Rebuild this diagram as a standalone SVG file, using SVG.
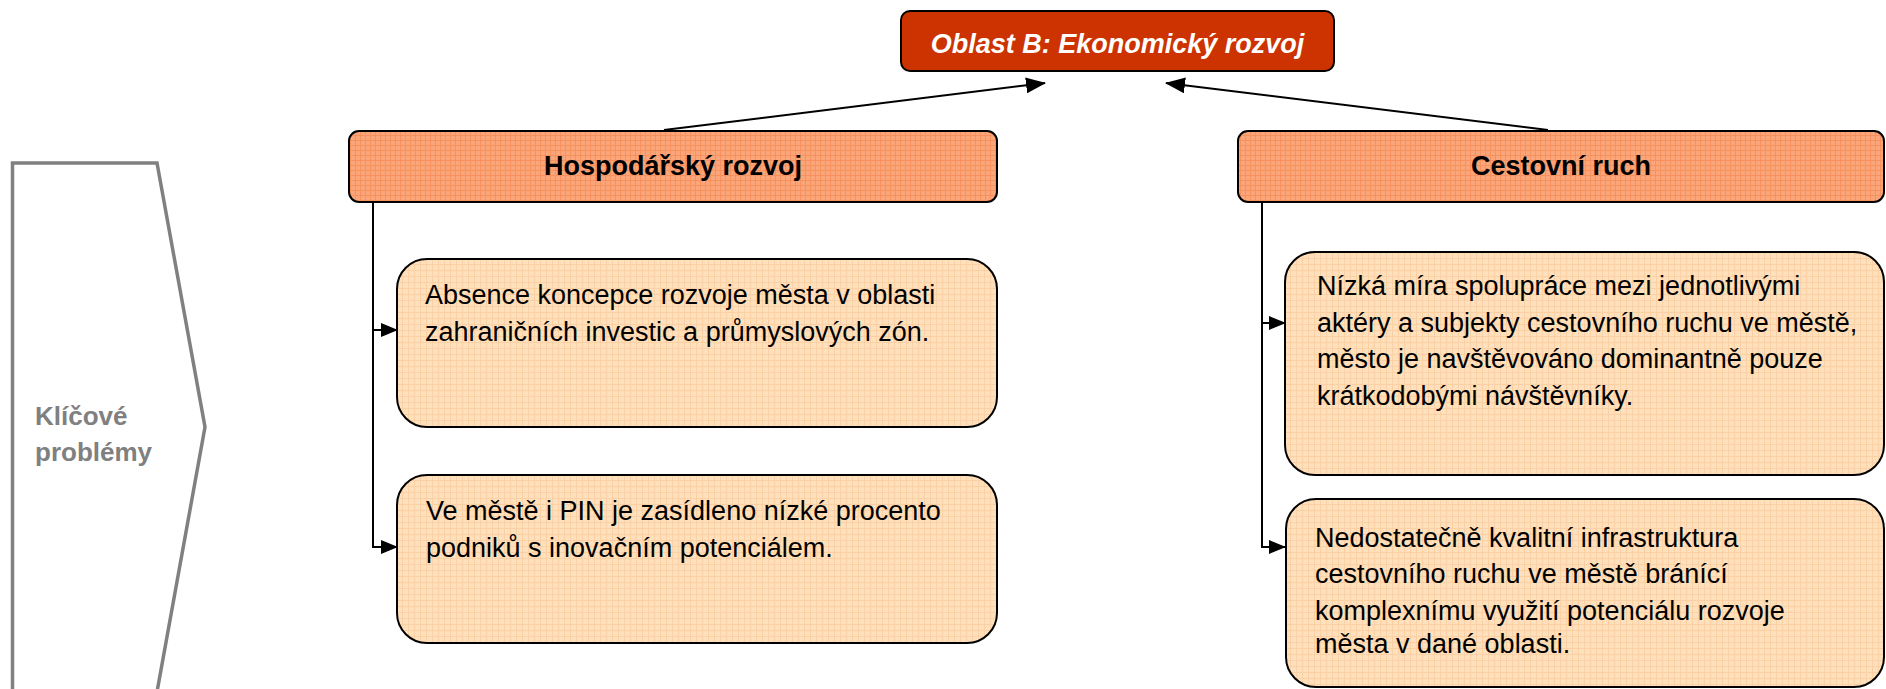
<svg xmlns="http://www.w3.org/2000/svg" width="1886" height="689" viewBox="0 0 1886 689">
<style>
  .hdr { fill: url(#gridHdr); stroke: #000; stroke-width: 2; }
  .body { fill: url(#gridBody); stroke: #000; stroke-width: 2; }
  .hdrtxt { font-family: "Liberation Sans", Arial, sans-serif; font-weight: bold; font-size: 27px; fill: #000; text-anchor: middle; }
  .btxt { font-family: "Liberation Sans", Arial, sans-serif; font-size: 27px; fill: #000; }
  .conn { stroke: #000; stroke-width: 2; fill: none; }
</style>
<defs>
  <pattern id="gridHdr" width="5" height="5" patternUnits="userSpaceOnUse">
    <rect width="5" height="5" fill="#FBA57A"/>
    <path d="M0 0.5H5M0.5 0V5" stroke="#F7925E" stroke-width="1"/>
  </pattern>
  <pattern id="gridBody" width="6" height="6" patternUnits="userSpaceOnUse">
    <rect width="6" height="6" fill="#FEE0BD"/>
    <path d="M0 0.5H6M0.5 0V6" stroke="#FBD0A4" stroke-width="1"/>
  </pattern>
  <marker id="arrBig" markerUnits="userSpaceOnUse" markerWidth="20" markerHeight="16" refX="19" refY="8" orient="auto">
    <path d="M0 0L20 8L0 16Z" fill="#000"/>
  </marker>
  <marker id="arrSm" markerUnits="userSpaceOnUse" markerWidth="17" markerHeight="14" refX="16" refY="7" orient="auto">
    <path d="M0 0L17 7L0 14Z" fill="#000"/>
  </marker>
</defs>
<rect width="1886" height="689" fill="#fff"/>

<g id="klicove-problemy">
  <polygon points="12.5,163 157,163 205,427 157,692 12.5,692" fill="#fff" stroke="#808080" stroke-width="3.5"/>
  <text x="35" y="425" font-family="Liberation Sans, Arial, sans-serif" font-weight="bold" font-size="26" fill="#808080">Klíčové</text>
  <text x="35" y="461" font-family="Liberation Sans, Arial, sans-serif" font-weight="bold" font-size="26" fill="#808080">problémy</text>
</g>

<g id="connectors">
  <line class="conn" x1="664" y1="130" x2="1045" y2="83" marker-end="url(#arrBig)"/>
  <line class="conn" x1="1548" y1="130" x2="1166" y2="83" marker-end="url(#arrBig)"/>
  <path class="conn" d="M373 202V547"/>
  <path class="conn" d="M372 330H397" marker-end="url(#arrSm)"/>
  <path class="conn" d="M372 547H397" marker-end="url(#arrSm)"/>
  <path class="conn" d="M1262 202V547"/>
  <path class="conn" d="M1261 323H1285" marker-end="url(#arrSm)"/>
  <path class="conn" d="M1261 547H1285" marker-end="url(#arrSm)"/>
</g>

<g id="oblast-b">
  <rect x="901" y="11" width="433" height="60" rx="9" fill="#CC3300" stroke="#000" stroke-width="2"/>
  <text x="1117.5" y="53" font-family="Liberation Sans, Arial, sans-serif" font-weight="bold" font-style="italic" font-size="27" fill="#fff" text-anchor="middle">Oblast B: Ekonomický rozvoj</text>
</g>

<g id="hospodarsky-rozvoj">
  <rect class="hdr" x="349" y="131" width="648" height="71" rx="10"/>
  <text class="hdrtxt" x="673" y="175">Hospodářský rozvoj</text>
</g>

<g id="cestovni-ruch">
  <rect class="hdr" x="1238" y="131" width="646" height="71" rx="10"/>
  <text class="hdrtxt" x="1561" y="175">Cestovní ruch</text>
</g>

<g id="absence-koncepce">
  <rect class="body" x="397" y="259" width="600" height="168" rx="30"/>
  <text class="btxt" x="425" y="304">Absence koncepce rozvoje města v oblasti</text>
  <text class="btxt" x="425" y="341">zahraničních investic a průmyslových zón.</text>
</g>

<g id="ve-meste-pin">
  <rect class="body" x="397" y="475" width="600" height="168" rx="30"/>
  <text class="btxt" x="426" y="520">Ve městě i PIN je zasídleno nízké procento</text>
  <text class="btxt" x="426" y="557">podniků s inovačním potenciálem.</text>
</g>

<g id="nizka-mira-spoluprace">
  <rect class="body" x="1285" y="252" width="599" height="223" rx="30"/>
  <text class="btxt" x="1317" y="295">Nízká míra spolupráce mezi jednotlivými</text>
  <text class="btxt" x="1317" y="332">aktéry a subjekty cestovního ruchu ve městě,</text>
  <text class="btxt" x="1317" y="368">město je navštěvováno dominantně pouze</text>
  <text class="btxt" x="1317" y="405">krátkodobými návštěvníky.</text>
</g>

<g id="nedostatecne-kvalitni">
  <rect class="body" x="1286" y="499" width="598" height="188" rx="30"/>
  <text class="btxt" x="1315" y="547">Nedostatečně kvalitní infrastruktura</text>
  <text class="btxt" x="1315" y="583">cestovního ruchu ve městě bránící</text>
  <text class="btxt" x="1315" y="620">komplexnímu využití potenciálu rozvoje</text>
  <text class="btxt" x="1315" y="653">města v dané oblasti.</text>
</g>
</svg>
